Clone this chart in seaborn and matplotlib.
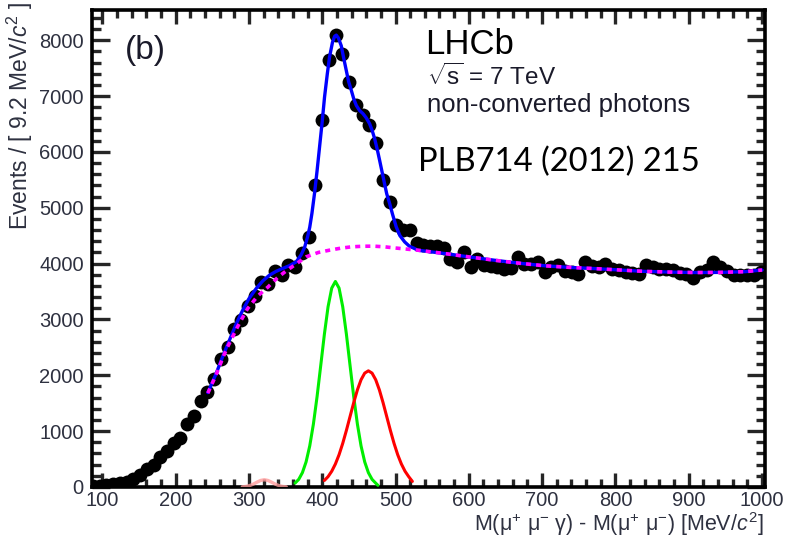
import numpy as np
import pandas as pd
import matplotlib
matplotlib.use("Agg")
import matplotlib.pyplot as plt
from matplotlib.ticker import MultipleLocator
import seaborn as sns

# ---------------- data ----------------
bin_width = 9.2
first_center = 87.1
counts = [10, 20, 35, 50, 70, 90, 135, 210, 315, 400,
          530, 650, 780, 880, 1130, 1270, 1540, 1700, 1940, 2290,
          2500, 2820, 2990, 3240, 3420, 3670, 3640, 3870, 3790, 3970,
          3940, 4190, 4480, 5400, 6570, 7640, 8090, 7760, 7250, 6840,
          6660, 6480, 6150, 5490, 5100, 4690,
          4600, 4600, 4360, 4330, 4320, 4310, 4280, 4090, 4030, 4210,
          3940, 4090, 3980, 3950, 3940, 3910, 3920, 4120, 3990, 4000,
          4030, 3850, 3930, 3970, 3860, 3850, 3820, 4030, 3950, 3940,
          4000, 3910, 3890, 3850, 3830, 3820, 3970, 3940, 3910, 3900,
          3880, 3830, 3820, 3740, 3850, 3880, 4020, 3940, 3860, 3800,
          3790, 3790, 3800, 3850]
mass = first_center + bin_width * np.arange(len(counts))

total_x = [244, 255, 265, 273.5, 282, 291.6, 300, 310, 319, 328, 337, 346, 355, 364.5,
           371, 376, 380, 383, 386, 389.5, 393, 396.4, 400, 403.2, 407, 410, 414, 417,
           419.2, 422, 426, 429, 432.8, 436, 439.7, 443, 446.5, 451, 455.6, 460, 464.6,
           468, 471.5, 475, 478.3, 482, 485, 488, 492, 496, 501, 506, 512.5, 519, 526,
           530, 567, 600, 635, 670, 704, 740, 772, 806, 840, 874, 908, 940, 977, 1000]
total_y = [1690, 2020, 2360, 2630, 2900, 3166, 3370, 3554, 3690, 3792, 3860, 3912, 3960, 4030,
           4150, 4290, 4477, 4650, 4900, 5254, 5660, 6088, 6540, 6982, 7400, 7698, 7960, 8070,
           8090, 8040, 7900, 7700, 7460, 7260, 7102, 6950, 6833, 6740, 6685, 6610, 6506,
           6390, 6238, 6050, 5850, 5620, 5433, 5250, 5075, 4880, 4657, 4500, 4388, 4310, 4270,
           4240, 4180, 4120, 4060, 4005, 3960, 3930, 3910, 3885, 3860, 3848, 3840, 3842, 3855, 3885]

bkg_x = [244, 255, 265, 271, 285, 298, 312, 326, 340, 352, 362, 378, 395, 410, 425, 440,
         455, 470, 485, 499, 530, 567, 600, 635, 670, 704, 740, 772, 806, 840, 874, 908,
         940, 977, 1000]
bkg_y = [1680, 2000, 2330, 2510, 2880, 3190, 3420, 3580, 3760, 3880, 3970, 4120, 4200, 4240,
         4275, 4300, 4310, 4312, 4300, 4280, 4240, 4180, 4120, 4060, 4005, 3960, 3930, 3910,
         3885, 3860, 3848, 3840, 3842, 3855, 3885]

chi1_x = [363, 368, 373, 378, 383, 388, 393, 398, 403, 408, 413, 418, 423, 428, 433, 438,
          443, 448, 453, 458, 463, 468, 473, 476]
chi1_y = [70, 137, 257, 449, 735, 1127, 1618, 2175, 2737, 3227, 3561, 3680, 3561, 3227,
          2737, 2175, 1618, 1127, 735, 449, 257, 137, 69, 30]

chi2_x = [403, 408, 413, 418, 423, 428, 433, 438, 443, 448, 453, 458, 463, 468, 473, 478,
          483, 488, 493, 498, 503, 508, 513, 518, 523]
chi2_y = [117, 185, 282, 412, 578, 781, 1013, 1262, 1511, 1738, 1920, 2039, 2080, 2039,
          1920, 1738, 1511, 1262, 1013, 781, 578, 412, 282, 185, 100]

chi0_x = [291, 296, 301, 306, 311, 316, 321, 326, 331, 336, 341, 346, 351]
chi0_y = [3, 10, 25, 51, 86, 117, 130, 117, 86, 51, 25, 10, 3]

x_ticks = [100, 200, 300, 400, 500, 600, 700, 800, 900, 1000]
y_ticks = [0, 1000, 2000, 3000, 4000, 5000, 6000, 7000, 8000]

# ---------------- style ----------------
sns.set_style("ticks")
plt.rcParams["font.family"] = ["Liberation Sans", "DejaVu Sans"]
plt.rcParams["mathtext.fontset"] = "custom"
plt.rcParams["mathtext.rm"] = "Liberation Sans"
plt.rcParams["mathtext.it"] = "Liberation Sans:italic"
plt.rcParams["mathtext.sf"] = "Liberation Sans"
plt.rcParams["mathtext.default"] = "regular"

W, H = 785, 542
fig = plt.figure(figsize=(W / 100, H / 100), dpi=100)
L, R, T, B = 92, 765, 10, 487
ax = fig.add_axes([L / W, 1 - B / H, (R - L) / W, (B - T) / H])

df = pd.DataFrame({"mass": mass, "events": counts})
sns.scatterplot(data=df, x="mass", y="events", ax=ax, color="black", s=100,
                edgecolor="black", linewidth=0, zorder=2)

def curve(xs, ys, color, lw, ls="-", z=3, alpha=1.0):
    d = pd.DataFrame({"x": xs, "y": ys})
    sns.lineplot(data=d, x="x", y="y", ax=ax, color=color, lw=lw, linestyle=ls,
                 sort=False, estimator=None, zorder=z, alpha=alpha)

curve(chi0_x, chi0_y, "#ff9c9c", 2.4, z=3, alpha=0.8)
curve(chi1_x, chi1_y, "#00ee00", 2.2, z=3)
curve(chi2_x, chi2_y, "#ff0000", 2.2, z=3)
curve(total_x, total_y, "#0000ff", 2.4, z=4)
curve(bkg_x, bkg_y, "#ff00ff", 2.6, ls=(0, (1.4, 1.4)), z=5)

ax.set_xlim(86, 1004)
ax.set_ylim(0, 8540)
ax.set_xticks(x_ticks)
ax.set_yticks(y_ticks)
ax.xaxis.set_minor_locator(MultipleLocator(20))
ax.yaxis.set_minor_locator(MultipleLocator(200))
ax.set_xlabel("")
ax.set_ylabel("")

for s in ax.spines.values():
    s.set_linewidth(2.6)
    s.set_color("black")
    s.set_visible(True)

lab_col = "#2e3140"
ax.tick_params(axis="x", which="major", direction="in", length=10, width=2.4,
               top=True, bottom=True, labelsize=14.5, labelcolor=lab_col, pad=3)
ax.tick_params(axis="x", which="minor", direction="in", length=5.5, width=2.4,
               top=True, bottom=True)
ax.tick_params(axis="y", which="major", direction="in", length=13, width=2.4,
               left=True, right=True, labelsize=14.5, labelcolor=lab_col, pad=6)
ax.tick_params(axis="y", which="minor", direction="in", length=6.5, width=2.4,
               left=True, right=True)

def fx(px):
    return px / W

def fy(py):
    return 1 - py / H

fig.text(fx(20), fy(2), r"Events / [ 9.2 MeV/$\mathit{c}^{2}$ ]", rotation=90, ha="center",
         va="top", fontsize=16.5, color=lab_col)
fig.text(fx(764), fy(524),
         r"M($\mu^{+}$ $\mu^{-}$ $\gamma$) - M($\mu^{+}$ $\mu^{-}$) [MeV/$\mathit{c}^{2}$]",
         ha="right", va="center", fontsize=15.5, color=lab_col)

fig.text(fx(125), fy(50), "(b)", ha="left", va="center", fontsize=24, color="#1a1a2a")
fig.text(fx(425), fy(44), "LHCb", ha="left", va="center", fontsize=25, color="black")
fig.text(fx(427), fy(77), r"$\sqrt{s}$ = 7 TeV", ha="left", va="center", fontsize=17.5,
         color="#1a1a2a")
fig.text(fx(427), fy(105), "non-converted photons", ha="left", va="center", fontsize=18.5,
         color="#1a1a2a")
fig.text(fx(418), fy(162), "PLB714 (2012) 215", ha="left", va="center", fontsize=23.6,
         color="black", family=["Lato", "DejaVu Sans"])

fig.savefig("out.png", dpi=100)
